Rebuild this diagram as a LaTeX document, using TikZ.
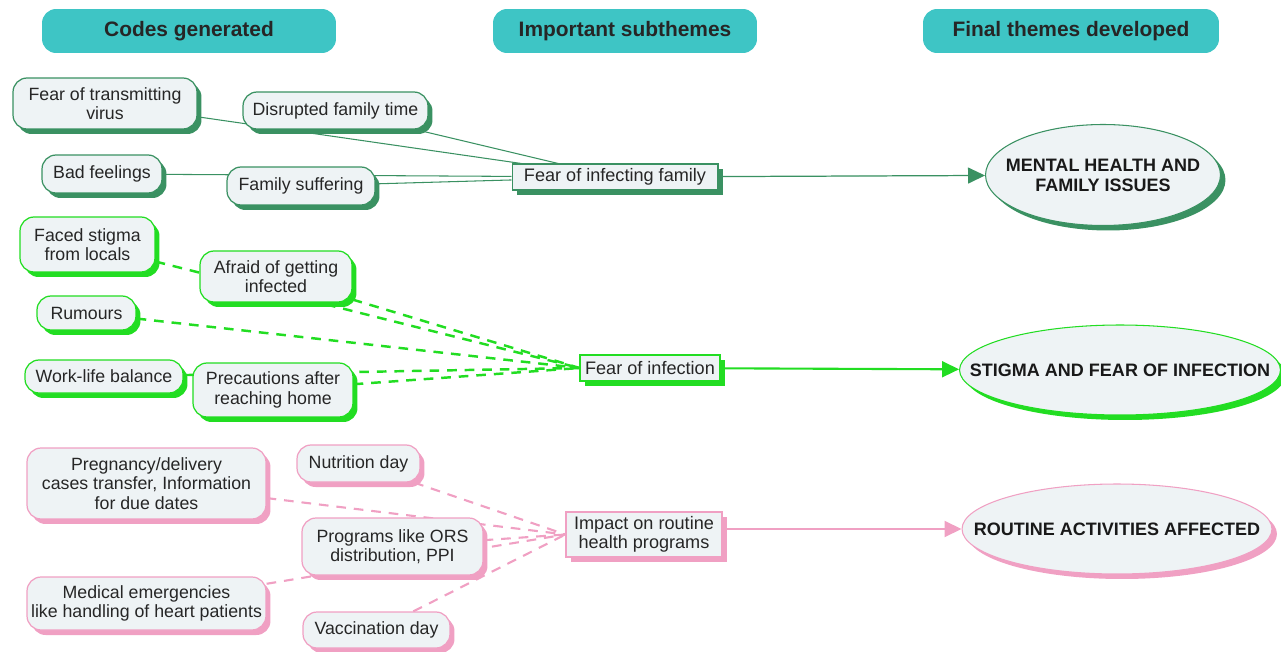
\documentclass[tikz,border=0pt]{standalone}
\usepackage{fontspec}
\setmainfont{Liberation Sans}
\usetikzlibrary{arrows.meta,shapes.geometric,shadows,backgrounds}
\definecolor{headteal}{RGB}{62,197,197}
\definecolor{famgreen}{RGB}{58,145,98}
\definecolor{infgreen}{RGB}{34,221,34}
\definecolor{routpink}{RGB}{240,160,195}
\definecolor{boxfill}{RGB}{238,243,245}
\tikzset{
  headbox/.style={rounded corners=8pt, fill=headteal, text=black!85,
    font=\fontsize{11.9}{13}\selectfont\bfseries},
  codebox/.style={rounded corners=8pt, draw=#1, fill=boxfill, line width=0.7pt,
    align=center, inner sep=2pt, text=black!85, font=\fontsize{10.1}{11}\selectfont,
    drop shadow={shadow xshift=0.09cm, shadow yshift=-0.1cm, fill=#1, opacity=1}},
  subbox/.style={rectangle, draw=#1, fill=boxfill, line width=0.6pt,
    align=center, inner sep=2pt, text=black!85, font=\fontsize{10.3}{11}\selectfont,
    drop shadow={shadow xshift=0.1cm, shadow yshift=-0.1cm, fill=#1, opacity=1}},
  themebox/.style={ellipse, draw=#1, fill=boxfill, line width=0.6pt,
    inner xsep=-2cm, inner ysep=0pt,
    align=center, text=black!90, font=\fontsize{10.25}{11.5}\selectfont\bfseries,
    drop shadow={shadow xshift=0.1cm, shadow yshift=-0.1cm, fill=#1, opacity=1}},
  famlink/.style={famgreen, line width=0.6pt},
  inflink/.style={infgreen, line width=1.4pt, dash pattern=on 5.5pt off 4.5pt},
  routlink/.style={routpink, line width=1.2pt, dash pattern=on 5.5pt off 4.5pt},
  themearr/.style={-{Triangle[length=3.4mm,width=3.2mm]}, draw=#1}
}

\begin{document}
\begin{tikzpicture}[x=0.02cm,y=-0.02cm]
\useasboundingbox (0,0) rectangle (1281,652);

% ---------------- Column headers ----------------
\node[headbox, minimum width=5.88cm, minimum height=0.88cm] (hcodes) at (189,31) {Codes generated};
\node[headbox, minimum width=5.28cm, minimum height=0.88cm] (hsub) at (625,31) {Important subthemes};
\node[headbox, minimum width=5.92cm, minimum height=0.88cm] (hfinal) at (1071,31) {Final themes developed};

% ---------------- Theme 1: mental health and family ----------------
\node[codebox=famgreen, minimum width=3.68cm, minimum height=1.02cm] (virus) at (105,103.5) {Fear of transmitting\\virus};
\node[codebox=famgreen, minimum width=3.7cm, minimum height=0.74cm] (disrupt) at (335.5,110.5) {Disrupted family time};
\node[codebox=famgreen, minimum width=2.4cm, minimum height=0.76cm] (badfeel) at (102,174) {Bad feelings};
\node[codebox=famgreen, minimum width=2.96cm, minimum height=0.76cm] (famsuf) at (301,186) {Family suffering};
\node[subbox=famgreen, minimum width=4.12cm, minimum height=0.52cm] (fif) at (615,177) {Fear of infecting family};
\node[themebox=famgreen, minimum width=4.7cm, minimum height=2.02cm] (mental) at (1103,175) {MENTAL HEALTH AND\\FAMILY ISSUES};

% ---------------- Theme 2: stigma and fear ----------------
\node[codebox=infgreen, minimum width=2.7cm, minimum height=1.1cm] (stigma) at (87.5,244.5) {Faced stigma\\from locals};
\node[codebox=infgreen, minimum width=3.04cm, minimum height=1.02cm] (afraid) at (276,276.5) {Afraid of getting\\infected};
\node[codebox=infgreen, minimum width=1.98cm, minimum height=0.68cm] (rumours) at (86.5,313) {Rumours};
\node[codebox=infgreen, minimum width=3.16cm, minimum height=0.66cm] (worklife) at (104,376.5) {Work-life balance};
\node[codebox=infgreen, minimum width=3.2cm, minimum height=1.08cm] (precaut) at (273,390) {Precautions after\\reaching home};
\node[subbox=infgreen, minimum width=2.8cm, minimum height=0.52cm] (foi) at (650,368) {Fear of infection};
\node[themebox=infgreen, minimum width=6.42cm, minimum height=1.8cm] (stigmaell) at (1120,370) {STIGMA AND FEAR OF INFECTION};

% ---------------- Theme 3: routine activities ----------------
\node[codebox=routpink, minimum width=4.78cm, minimum height=1.42cm] (preg) at (146.5,483.5) {Pregnancy/delivery\\cases transfer, Information\\for due dates};
\node[codebox=routpink, minimum width=2.46cm, minimum height=0.74cm] (nutri) at (358.5,463.5) {Nutrition day};
\node[codebox=routpink, minimum width=3.62cm, minimum height=1.14cm] (progs) at (392.5,546.5) {Programs like ORS\\distribution, PPI};
\node[codebox=routpink, minimum width=4.78cm, minimum height=1.06cm] (medic) at (146.5,603.5) {Medical emergencies\\like handling of heart patients};
\node[codebox=routpink, minimum width=2.94cm, minimum height=0.72cm] (vacc) at (376.5,630) {Vaccination day};
\node[subbox=routpink, minimum width=3.12cm, minimum height=0.9cm] (impact) at (644,534.5) {Impact on routine\\health programs};
\node[themebox=routpink, minimum width=6.2cm, minimum height=1.8cm] (routine) at (1117,529) {ROUTINE ACTIVITIES AFFECTED};

% ---------------- Links (behind the boxes) ----------------
\begin{scope}[on background layer]
  \foreach \src in {virus,disrupt,badfeel,famsuf}
    \draw[famlink] (\src) -- (fif);
  \foreach \src in {stigma,afraid,rumours,worklife,precaut}
    \draw[inflink] (\src) -- (foi.west);
  \foreach \src in {nutri,preg,progs,medic,vacc}
    \draw[routlink] (\src) -- (impact.west);
  \draw[themearr=famgreen, line width=0.7pt, fill=famgreen] (fif) -- (mental);
  \draw[themearr=infgreen, line width=1.2pt, fill=infgreen] (foi) -- (stigmaell);
  \draw[themearr=routpink, line width=1.1pt, fill=routpink] (impact.east |- routine.west) -- (routine.west);
\end{scope}

\end{tikzpicture}
\end{document}
